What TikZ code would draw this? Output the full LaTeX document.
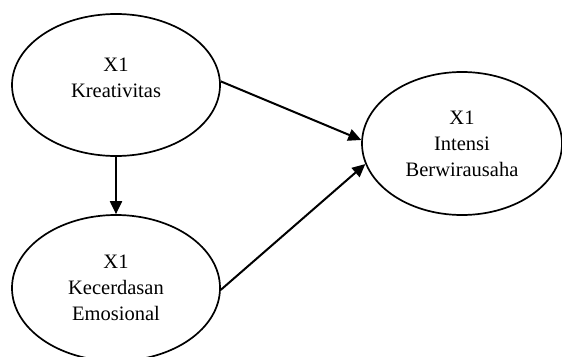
\documentclass[tikz,border=0pt]{standalone}
\usepackage{fontspec}
\setmainfont{Liberation Serif}
\usetikzlibrary{shapes.geometric,arrows.meta}

\begin{document}
\begin{tikzpicture}[-{Triangle[length=13pt,width=12pt]},x=1pt,y=-1pt,line width=2pt,
  var/.style={ellipse,draw,-,line width=1.7pt,align=center,inner sep=0pt,
    font=\fontsize{20.5}{26}\selectfont}]
\useasboundingbox (0,0) rectangle (562,356);
\node[var,minimum width=208pt,minimum height=142pt,text depth=14pt] (kr) at (116,85) {X1\\Kreativitas};
\node[var,minimum width=208pt,minimum height=146pt] (ke) at (116,288)   {X1\\Kecerdasan\\Emosional};
\node[var,minimum width=200pt,minimum height=143pt] (in) at (462,143.5) {X1\\Intensi\\Berwirausaha};

\path   (kr.south) edge (ke.north)
        (kr.2)     edge (in.178)
        (ke.359)   edge (in.192)
        ;
\end{tikzpicture}
\end{document}
